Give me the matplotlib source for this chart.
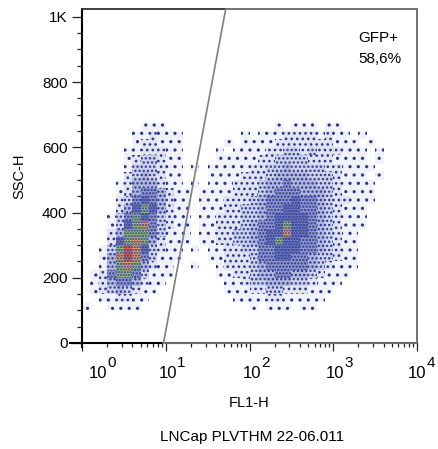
import numpy as np
import matplotlib
matplotlib.use("Agg")
import matplotlib.pyplot as plt
from matplotlib.ticker import LogLocator, MultipleLocator, NullFormatter, FixedLocator

plt.rcParams['font.family'] = ['Liberation Sans', 'DejaVu Sans']
plt.rcParams['hatch.linewidth'] = 1.1

#----- Data -----------------------------------------------------------------------------------

# event density, 0.1 decade wide bins in FL1-H (log10 from 0 to 3.7)
x_bin_log = np.linspace(0, 3.7, 38)
# 25 units high bins in SSC-H, from 75 to 700
y_bin = np.arange(75, 701, 25)

# rows from top (y 675-700) to bottom (y 75-100): (first column, density levels 0-9)
density_rows = [
    [],
    [(7, "111"), (23, "10111011")],
    [(6, "112111"), (19, "101112222121101")],
    [(6, "122111"), (17, "101111222222211101")],
    [(5, "1122211"), (16, "10111122332322211101")],
    [(5, "1233211"), (16, "11111223333222111101")],
    [(5, "1333211"), (13, "1"), (15, "111112233433332211110")],
    [(5, "2343211"), (15, "111122234444333211101")],
    [(4, "12444211"), (13, "1"), (15, "111222344544433211110")],
    [(4, "124554211"), (14, "111122234555444321111")],
    [(4, "235654211"), (14, "111222345556554322111")],
    [(4, "246764211"), (14, "111223345566554321110")],
    [(3, "1357653211"), (14, "11222334566665432111")],
    [(3, "1367853211"), (14, "11222345567665432111")],
    [(3, "2477753111"), (14, "11223345668665432110")],
    [(3, "2678742111"), (14, "11223345676655432110")],
    [(2, "1379863211"), (13, "1"), (15, "112233556665543211")],
    [(2, "1489853111"), (15, "112223556655433211")],
    [(2, "147874211"), (13, "1"), (16, "12223455555432111")],
    [(1, "1257753111"), (16, "1122344554432111")],
    [(1, "124554211"), (17, "11233444332111")],
    [(1, "12343211"), (17, "1112233222111")],
    [(2, "112211"), (18, "11112211111")],
    [(0, "1"), (3, "1111"), (20, "10111011")],
    [],
]

# GFP+ gate
gate_x = [9.4, 52, 10000, 10000, 9.4]
gate_y = [0, 1024, 1024, 0, 0]
gate_label = "GFP+"
gate_pct = "58,6%"

y_ticks = [0, 200, 400, 600, 800, 1000]
y_tick_labels = ["0", "200", "400", "600", "800", "1K"]
x_decades = [0, 1, 2, 3, 4]

#----- Build density grid ---------------------------------------------------------------------

grid = np.zeros((len(y_bin) - 1, len(x_bin_log) - 1), dtype=int)
for i, row in enumerate(density_rows):
        for start, levels in row:
                for j, ch in enumerate(levels):
                        grid[i, start + j] = int(ch)
grid = grid[::-1]

# cell look per level: average tint + dotted texture
level_face = {1: '#f0f1f9', 2: '#e1e3f1', 3: '#cdd1ea', 4: '#b1b7dc', 5: '#9097cc',
              6: '#727bbd', 7: '#9cc07a', 8: '#e9a466', 9: '#e0664c'}
level_hatch = {1: '..', 2: '...', 3: '....', 4: '....', 5: '.....',
               6: '......', 7: '......', 8: '......', 9: '......'}
dot_color = '#27358f'

#----- Plot -----------------------------------------------------------------------------------

fig = plt.figure(figsize=(4.38, 4.49), dpi=100)
ax = fig.add_axes([82 / 438, 1 - 343 / 449, 335 / 438, 334 / 449])

x_edges = 10 ** x_bin_log
for lev in range(1, 10):
        rows, cols = np.nonzero(grid == lev)
        if len(rows) == 0:
                continue
        ax.bar(x_edges[cols], y_bin[rows + 1] - y_bin[rows], width=x_edges[cols + 1] - x_edges[cols],
               bottom=y_bin[rows], align='edge', color=level_face[lev], edgecolor=dot_color,
               linewidth=0, hatch=level_hatch[lev])

ax.plot(gate_x, gate_y, color='#7f7f7f', lw=1.2, clip_on=False, zorder=5)

ax.set_xscale('log')
ax.set_xlim(1, 10000)
ax.set_ylim(0, 1024)

ax.set_yticks(y_ticks)
ax.set_yticklabels(y_tick_labels, fontsize=11)
ax.yaxis.set_minor_locator(MultipleLocator(50))
ax.xaxis.set_major_locator(FixedLocator([10 ** d for d in x_decades]))
ax.xaxis.set_minor_locator(LogLocator(base=10, subs=np.arange(2, 10)))
ax.xaxis.set_minor_formatter(NullFormatter())
ax.set_xticklabels([])

ax.tick_params(axis='y', which='major', length=7, width=0.9, pad=3.5, color='#222222')
ax.tick_params(axis='y', which='minor', length=3.5, width=0.9, color='#222222')
ax.tick_params(axis='x', which='major', length=6, width=0.9, color='#222222')
ax.tick_params(axis='x', which='minor', length=3, width=0.9, color='#222222')

for s in ['left', 'bottom']:
        ax.spines[s].set_linewidth(1.5)
        ax.spines[s].set_color('black')
for s in ['top', 'right']:
        ax.spines[s].set_linewidth(1.3)
        ax.spines[s].set_color('#333333')
ax.plot([-0.036, 0], [0, 0], transform=ax.transAxes, color='black', lw=1.5, clip_on=False)
ax.plot([0, 0], [-0.012, 0], transform=ax.transAxes, color='black', lw=1.5, clip_on=False)

# decade labels, FlowJo style (the first one sits inside the axis)
for d in x_decades:
        cx = 11.5 if d == 0 else (0 if d == 4 else 1.5)
        ax.annotate("10", xy=(10 ** d, 0), xycoords=('data', 'axes fraction'),
                    xytext=(cx, -25.2), textcoords='offset points',
                    ha='center', va='baseline', fontsize=12)
        ax.annotate(str(d), xy=(10 ** d, 0), xycoords=('data', 'axes fraction'),
                    xytext=(cx + 6.8, -17.3), textcoords='offset points',
                    ha='left', va='baseline', fontsize=11)

ax.set_xlabel("FL1-H", fontsize=10.5)
ax.xaxis.set_label_coords(0.5, -0.16)
ax.set_ylabel("SSC-H", fontsize=10.5)
ax.yaxis.set_label_coords(-0.165, 0.5)

ax.text(0.824, 0.901, gate_label, transform=ax.transAxes, fontsize=11, va='baseline')
ax.text(0.824, 0.838, gate_pct, transform=ax.transAxes, fontsize=11, va='baseline')

fig.text(252 / 438, (449 - 441) / 449, "LNCap PLVTHM 22-06.011", ha='center',
         va='baseline', fontsize=11)

fig.savefig("out.png", dpi=100)
